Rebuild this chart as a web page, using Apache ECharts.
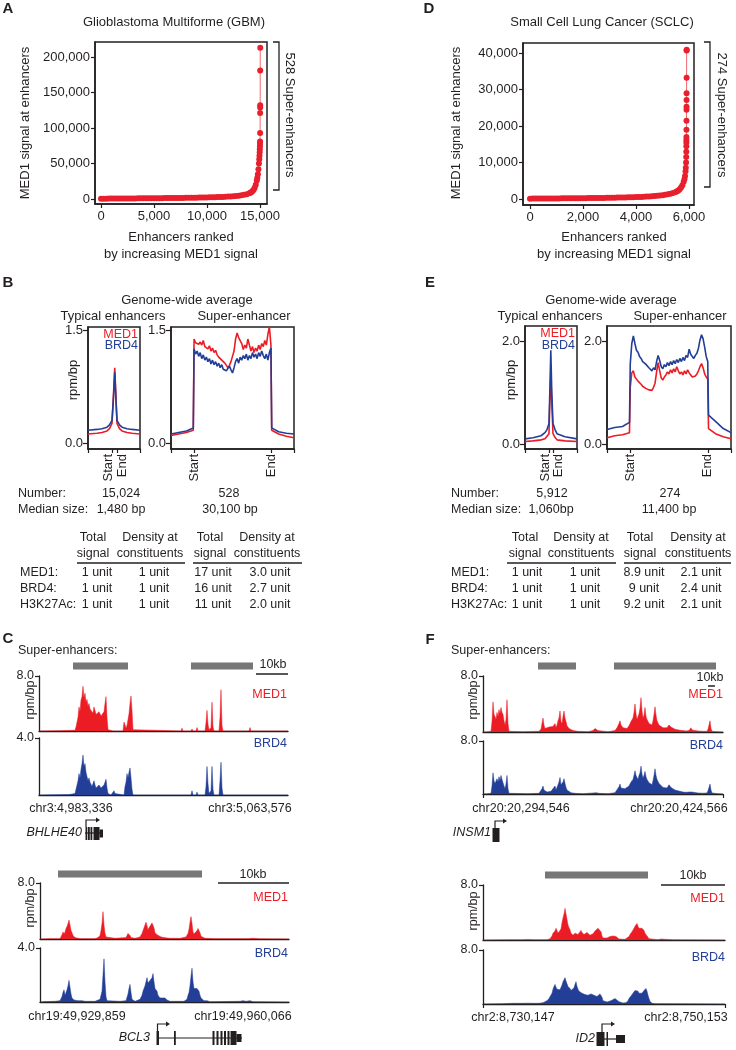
<!DOCTYPE html>
<html><head><meta charset="utf-8">
<script src="https://cdn.jsdelivr.net/npm/echarts@6/dist/echarts.min.js"></script>
<style>html,body{margin:0;padding:0;background:#fff}#c{width:736px;height:1050px}</style>
</head><body><div id="c"></div>
<script>
// ---------------- DATA ----------------
// Panel A (GBM): enhancers ranked by MED1 signal
const gbmRank = [0,250,500,750,1000,1250,1500,1750,2000,2250,2500,2750,3000,3250,3500,3750,4000,4250,4500,4750,5000,5250,5500,5750,6000,6250,6500,6750,7000,7250,7500,7750,8000,8250,8500,8750,9000,9250,9500,9750,10000,10250,10500,10750,11000,11250,11500,11750,12000,12250,12500,12750,13000,13250,13500,13750,14000,14100,14200,14300,14400,14500,14600,14700,14750,14800,14850,14900,14930,14950,14970,14980,14990,15000,15005,15010,15013,15016,15018,15020,15024];
const gbmSignal = [400,500,550,600,650,700,720,750,780,800,830,860,890,920,950,980,1010,1040,1070,1100,1130,1160,1200,1240,1280,1320,1360,1400,1450,1500,1550,1600,1660,1720,1780,1850,1920,2000,2080,2170,2260,2360,2470,2590,2720,2870,3030,3220,3430,3680,3970,4320,4750,5250,5900,6800,8000,8800,9900,11300,13200,16000,20000,26000,30000,35000,42000,50000,56000,61000,66000,70000,74000,78000,81000,93000,121000,129000,132000,181000,213000];
const gbmXTicks = [0,5000,10000,15000];
const gbmYTicks = [0,50000,100000,150000,200000];
// Panel D (SCLC)
const sclcRank = [0,100,200,300,400,500,600,700,800,900,1000,1100,1200,1300,1400,1500,1600,1700,1800,1900,2000,2100,2200,2300,2400,2500,2600,2700,2800,2900,3000,3100,3200,3300,3400,3500,3600,3700,3800,3900,4000,4100,4200,4300,4400,4500,4600,4700,4800,4900,5000,5100,5200,5300,5400,5500,5550,5600,5650,5700,5750,5800,5830,5850,5870,5880,5890,5895,5898,5900,5901,5902,5903,5904,5905,5906,5907,5908,5909,5910,5911,5912];
const sclcSignal = [100,110,120,125,130,135,140,145,150,155,160,165,170,175,180,185,190,195,200,210,220,230,240,250,260,270,280,290,300,315,330,345,360,375,390,410,430,450,470,495,520,550,580,610,650,690,740,800,870,950,1040,1150,1280,1440,1640,1900,2100,2350,2700,3150,3800,4700,5500,6300,7600,8600,10000,11500,13000,14500,15500,16200,17000,19000,21500,24500,25300,27200,29000,33300,40800,41000];
const sclcXTicks = [0,2000,4000,6000];
const sclcYTicks = [0,10000,20000,30000,40000];

// Panels B / E: meta-profiles (rpm/bp); x in units of enhancer length (0 = Start, 1 = End)
const profileTickLabels = ['Start','End'];
const seX = [-0.3,-0.2,-0.1,-0.01,0,0.02,0.04,0.06,0.08,0.1,0.12,0.14,0.16,0.18,0.2,0.22,0.24,0.26,0.28,0.3,0.32,0.34,0.36,0.38,0.4,0.42,0.44,0.46,0.48,0.5,0.52,0.54,0.56,0.58,0.6,0.62,0.64,0.66,0.68,0.7,0.72,0.74,0.76,0.78,0.8,0.82,0.84,0.86,0.88,0.9,0.92,0.94,0.96,0.98,1.0,1.01,1.1,1.2,1.3];
const gbmSeMed1 = [0.10,0.12,0.14,0.17,1.38,1.33,1.35,1.31,1.34,1.30,1.36,1.28,1.30,1.25,1.29,1.22,1.26,1.20,1.23,1.17,1.14,1.16,1.10,1.12,1.06,1.04,1.00,1.03,1.08,1.15,1.22,1.38,1.46,1.40,1.36,1.32,1.24,1.30,1.26,1.38,1.30,1.22,1.28,1.20,1.26,1.22,1.30,1.24,1.32,1.28,1.36,1.30,1.44,1.54,1.30,0.17,0.12,0.09,0.07];
const gbmSeBrd4 = [0.12,0.14,0.16,0.20,1.25,1.18,1.22,1.15,1.20,1.12,1.17,1.10,1.14,1.08,1.12,1.05,1.10,1.04,1.08,1.02,1.06,1.00,1.04,0.98,1.00,0.96,0.98,1.02,0.97,0.93,1.00,1.08,1.12,1.06,1.14,1.10,1.16,1.12,1.18,1.10,1.16,1.12,1.20,1.14,1.18,1.12,1.20,1.15,1.22,1.16,1.12,1.18,1.10,1.20,1.26,0.20,0.15,0.13,0.12];
const sclcSeMed1 = [0.12,0.16,0.18,0.22,1.10,1.38,1.42,1.30,1.28,1.22,1.20,1.16,1.12,1.14,1.08,1.10,1.05,1.08,1.04,1.10,1.18,1.40,1.58,1.42,1.28,1.24,1.30,1.34,1.40,1.36,1.44,1.38,1.46,1.40,1.50,1.42,1.36,1.40,1.34,1.42,1.36,1.44,1.38,1.34,1.30,1.28,1.32,1.36,1.42,1.50,1.56,1.48,1.36,1.30,1.26,0.30,0.20,0.14,0.10];
const sclcSeBrd4 = [0.28,0.32,0.34,0.42,1.55,1.95,2.10,1.95,1.82,1.78,1.70,1.66,1.60,1.62,1.55,1.52,1.48,1.45,1.42,1.48,1.44,1.60,1.72,1.62,1.50,1.46,1.54,1.50,1.58,1.52,1.60,1.54,1.62,1.56,1.64,1.58,1.66,1.60,1.68,1.62,1.72,1.68,1.84,1.74,1.70,1.66,1.72,1.76,1.86,2.02,2.12,2.04,1.88,1.70,1.60,0.56,0.44,0.30,0.22];
const gbmTeX = [-4.8,-3,-2,-1,-0.5,0,0.3,0.55,0.8,1,1.5,2,3,4,5.6];
const gbmTeMed1 = [0.12,0.13,0.14,0.16,0.19,0.26,0.65,1.0,0.6,0.26,0.19,0.16,0.14,0.13,0.12];
const gbmTeBrd4 = [0.17,0.18,0.19,0.21,0.24,0.30,0.60,0.94,0.55,0.30,0.24,0.21,0.19,0.18,0.17];
const sclcTeX = [-6,-4,-2,-1,-0.5,0,0.2,0.45,0.7,1,1.5,2,4,7];
const sclcTeMed1 = [0.05,0.06,0.08,0.10,0.13,0.20,0.80,1.32,0.80,0.20,0.13,0.08,0.06,0.05];
const sclcTeBrd4 = [0.10,0.12,0.16,0.22,0.28,0.40,1.00,1.82,1.00,0.40,0.28,0.20,0.14,0.10];

// Stats & tables
const gbmNumber = ['15,024','528'];
const gbmMedian = ['1,480 bp','30,100 bp'];
const sclcNumber = ['5,912','274'];
const sclcMedian = ['1,060bp','11,400 bp'];
const tableHead1 = ['Total','Density at','Total','Density at'];
const tableHead2 = ['signal','constituents','signal','constituents'];
const tableRows = ['MED1:','BRD4:','H3K27Ac:'];
const gbmTable = [['1 unit','1 unit','17 unit','3.0 unit'],['1 unit','1 unit','16 unit','2.7 unit'],['1 unit','1 unit','11 unit','2.0 unit']];
const sclcTable = [['1 unit','1 unit','8.9 unit','2.1 unit'],['1 unit','1 unit','9 unit','2.4 unit'],['1 unit','1 unit','9.2 unit','2.1 unit']];

// Panels C / F: binned ChIP-seq tracks [bin, rpm/bp]
const c1Bins = 249, c2Bins = 249, f1Bins = 240, f2Bins = 242;
const c1Coords = ['chr3:4,983,336','chr3:5,063,576'];
const c2Coords = ['chr19:49,929,859','chr19:49,960,066'];
const f1Coords = ['chr20:20,294,546','chr20:20,424,566'];
const f2Coords = ['chr2:8,730,147','chr2:8,750,153'];
const c1SE = [[34,89],[152,214]];
const c2SE = [[18,162]];
const f1SE = [[55,93],[131,233]];
const f2SE = [[62,165]];
const c1Med1 = [[0,0],[20,0.05],[36,0.1],[37,0.6],[39,2.0],[40,3.5],[41,2.8],[42,4.5],[43,5.0],[44,6.5],[45,4.8],[46,5.5],[47,4.2],[48,4.6],[49,3.6],[50,4.0],[51,3.2],[52,3.4],[53,3.0],[54,2.6],[55,3.5],[56,3.0],[57,2.4],[58,2.5],[59,2.2],[60,2.8],[61,2.6],[62,2.2],[63,2.4],[64,2.3],[65,2.8],[66,4.0],[67,5.0],[68,2.0],[69,0.2],[70,0],[74,0],[75,0.2],[76,0],[84,0],[85,1.3],[86,0.9],[87,0.4],[88,0.8],[90,2.5],[91,4.0],[92,5.1],[93,3.0],[94,0.2],[95,0],[142,0],[143,0.4],[144,0],[152,0],[153,0.3],[154,0],[157,0],[158,0.5],[159,0],[166,0],[167,1.2],[168,3.0],[169,1.0],[170,0.2],[172,0.5],[173,4.2],[174,0.6],[175,0],[180,0],[181,2.0],[182,6.0],[183,0.8],[184,0],[210,0],[211,0.5],[212,0],[249,0]];
const c1Brd4 = [[0,0],[30,0.03],[36,0.1],[37,0.4],[39,1.0],[40,1.5],[41,1.2],[42,1.8],[43,2.2],[44,2.8],[45,2.0],[46,2.2],[47,1.6],[48,1.3],[49,1.0],[50,1.2],[51,0.9],[52,0.8],[53,0.6],[54,0.8],[55,1.0],[56,0.7],[57,0.5],[58,0.6],[59,0.5],[60,0.7],[61,0.8],[62,0.5],[63,0.4],[64,0.5],[65,0.7],[66,0.9],[67,1.1],[68,0.5],[69,0.1],[72,0],[74,0.1],[75,0.3],[76,0.1],[78,0],[85,0],[86,0.6],[87,0.9],[88,1.5],[89,1.2],[90,1.6],[91,1.9],[92,1.2],[93,0.4],[94,0],[143,0],[144,0.1],[145,0],[152,0],[153,0.3],[154,0],[157,0],[158,0.2],[159,0],[166,0],[167,0.6],[168,2.0],[169,0.8],[170,0.1],[172,0.3],[173,2.0],[174,0.4],[175,0],[180,0],[181,1.0],[182,2.3],[183,0.5],[184,0],[211,0],[212,0.05],[213,0],[249,0]];
const c2Med1 = [[0,0],[10,0.05],[20,0.05],[22,0.6],[23,1.0],[24,0.7],[25,1.0],[26,1.5],[27,1.8],[28,2.2],[29,2.7],[30,2.0],[31,1.2],[32,0.9],[33,0.5],[35,0.2],[37,0.1],[40,0.05],[55,0.05],[58,0.2],[60,0.5],[61,1.2],[62,2.2],[63,3.9],[64,2.0],[65,0.8],[66,0.3],[68,0.1],[75,0.1],[86,0.2],[87,0.5],[88,0.8],[89,0.9],[90,0.5],[91,0.2],[95,0.1],[100,0.3],[102,0.8],[104,1.6],[105,2.0],[106,2.4],[107,1.9],[108,1.3],[109,1.6],[110,1.5],[111,1.8],[112,2.3],[113,2.5],[114,1.6],[115,0.9],[117,0.6],[119,0.4],[121,0.3],[124,0.2],[130,0.1],[140,0.1],[146,0.3],[148,0.8],[149,1.4],[150,2.4],[151,3.2],[152,2.2],[153,1.0],[154,0.7],[155,0.8],[156,0.9],[157,1.2],[158,1.5],[159,1.6],[160,0.9],[161,0.4],[162,0.2],[165,0.1],[175,0.05],[209,0.05],[210,0.2],[211,0.3],[212,0.1],[220,0.02],[249,0]];
const c2Brd4 = [[0,0],[5,0.03],[15,0.05],[20,0.1],[22,0.4],[23,0.7],[24,0.9],[25,0.5],[26,0.4],[27,0.9],[28,1.2],[29,1.6],[30,1.1],[31,0.6],[32,0.3],[34,0.15],[36,0.2],[38,0.1],[40,0.15],[42,0.1],[45,0.05],[55,0.05],[60,0.2],[62,0.8],[63,2.0],[64,3.2],[65,1.5],[66,0.4],[67,0.1],[80,0.05],[86,0.1],[88,0.6],[89,1.0],[90,1.3],[91,0.7],[92,0.2],[95,0.05],[100,0.2],[102,0.5],[103,0.8],[104,1.0],[105,1.2],[106,1.5],[107,1.8],[108,1.4],[109,1.3],[110,1.6],[111,1.5],[112,1.8],[113,2.1],[114,1.5],[115,1.0],[116,0.9],[117,0.8],[118,0.5],[120,0.3],[122,0.2],[125,0.3],[127,0.15],[130,0.05],[144,0.05],[147,0.2],[148,0.5],[149,0.7],[150,1.2],[151,1.9],[152,2.5],[153,1.5],[154,1.0],[155,0.9],[156,0.9],[157,1.0],[158,1.0],[159,0.8],[160,0.5],[161,0.3],[162,0.2],[164,0.1],[167,0.1],[170,0.02],[200,0.05],[203,0.1],[206,0.05],[210,0.1],[213,0.02],[249,0]];
const f1Med1 = [[0,0],[5,0.05],[8,0.1],[9,1.5],[10,4.3],[11,2.5],[12,2.2],[13,1.8],[14,2.8],[15,2.2],[16,3.2],[17,2.6],[18,3.5],[19,2.8],[20,2.5],[21,1.6],[22,1.0],[23,1.8],[24,4.6],[25,1.2],[26,0.1],[28,0.05],[40,0.05],[56,0.1],[58,0.4],[59,1.2],[60,2.0],[61,1.0],[62,0.5],[64,0.4],[66,0.7],[68,0.5],[70,0.8],[72,1.2],[73,0.6],[74,1.0],[75,1.6],[76,2.0],[77,3.0],[78,1.5],[79,1.2],[80,2.2],[81,3.0],[82,2.0],[83,1.5],[84,0.9],[86,0.5],[88,0.3],[90,0.2],[95,0.1],[105,0.05],[110,0.2],[111,0.4],[112,0.5],[113,0.3],[114,0.45],[115,0.2],[117,0.05],[125,0.05],[132,0.2],[134,0.6],[136,1.2],[137,1.6],[138,1.0],[140,0.6],[142,0.7],[144,0.5],[146,0.9],[148,1.5],[149,1.4],[150,2.0],[151,2.8],[152,4.0],[153,2.6],[154,1.8],[155,2.0],[156,2.6],[157,3.4],[158,4.9],[159,3.0],[160,2.0],[161,2.4],[162,3.5],[163,2.2],[164,1.8],[165,1.5],[166,1.2],[167,1.0],[168,1.2],[169,1.0],[170,1.6],[171,2.5],[172,3.6],[173,2.4],[174,1.6],[175,1.3],[176,1.0],[177,0.9],[178,0.8],[180,0.6],[182,0.5],[184,0.6],[185,0.8],[186,1.0],[187,1.2],[188,0.7],[189,0.9],[190,0.6],[192,0.4],[194,0.3],[197,0.25],[200,0.2],[203,0.15],[206,0.2],[207,0.4],[208,0.6],[209,0.3],[211,0.15],[215,0.15],[220,0.1],[224,0.1],[225,0.4],[226,1.0],[227,1.6],[228,0.5],[229,0.1],[235,0.05],[240,0]];
const f1Brd4 = [[0,0],[5,0.05],[8,0.1],[9,1.2],[10,3.2],[11,2.0],[12,1.6],[13,1.5],[14,2.3],[15,1.8],[16,2.6],[17,2.0],[18,2.8],[19,2.2],[20,2.0],[21,1.2],[22,0.8],[23,1.5],[24,2.8],[25,0.8],[26,0.1],[28,0.05],[45,0.05],[56,0.1],[58,0.3],[59,0.8],[60,1.2],[61,0.6],[62,0.3],[64,0.3],[66,0.5],[68,0.4],[70,0.7],[72,1.2],[73,0.6],[74,0.9],[75,1.4],[76,1.8],[77,2.5],[78,1.4],[79,1.1],[80,1.8],[81,2.3],[82,1.6],[83,1.0],[84,0.6],[86,0.4],[88,0.2],[92,0.1],[100,0.05],[110,0.15],[112,0.4],[113,0.2],[114,0.3],[116,0.1],[125,0.05],[132,0.2],[134,0.5],[136,1.1],[137,1.5],[138,0.9],[140,0.6],[142,0.8],[144,0.7],[146,1.2],[148,1.8],[149,1.6],[150,2.2],[151,2.8],[152,3.5],[153,2.8],[154,2.5],[155,2.2],[156,2.8],[157,3.2],[158,4.2],[159,3.0],[160,2.4],[161,2.8],[162,3.4],[163,2.6],[164,2.2],[165,2.0],[166,1.7],[167,1.5],[168,1.6],[169,1.4],[170,2.0],[171,2.8],[172,3.8],[173,2.8],[174,2.2],[175,2.0],[176,1.6],[177,1.4],[178,1.3],[180,1.0],[182,0.8],[184,0.9],[185,1.1],[186,1.4],[187,1.6],[188,1.0],[189,1.0],[190,0.8],[192,0.6],[194,0.5],[197,0.4],[200,0.3],[203,0.25],[206,0.3],[207,0.4],[208,0.5],[209,0.3],[211,0.2],[215,0.15],[220,0.12],[224,0.15],[225,0.5],[226,1.0],[227,1.5],[228,0.6],[229,0.15],[235,0.05],[240,0]];
const f2Med1 = [[0,0],[20,0.02],[30,0.05],[32,0.1],[34,0.03],[40,0.05],[45,0.08],[50,0.05],[55,0.03],[64,0.05],[67,0.2],[68,0.3],[69,0.6],[70,1.0],[71,0.9],[72,1.3],[73,1.7],[74,1.4],[75,1.0],[76,0.9],[77,1.2],[78,1.6],[79,2.5],[80,3.2],[81,3.8],[82,4.6],[83,3.8],[84,3.0],[85,2.2],[86,1.8],[87,1.5],[88,1.0],[89,0.8],[90,0.7],[91,0.9],[92,1.0],[93,1.2],[94,0.9],[95,0.8],[96,0.7],[97,1.0],[98,1.4],[99,1.1],[100,0.9],[101,0.8],[102,0.7],[103,0.9],[104,1.1],[105,1.2],[106,0.9],[107,0.7],[108,0.6],[109,0.7],[110,0.9],[111,1.1],[112,1.3],[113,1.4],[114,1.5],[115,1.7],[116,1.8],[117,1.9],[118,1.2],[119,0.6],[120,0.3],[122,0.2],[124,0.3],[125,0.3],[126,0.4],[127,0.5],[128,0.6],[129,0.5],[130,0.6],[131,0.5],[132,0.5],[133,0.5],[134,0.3],[136,0.15],[138,0.1],[142,0.1],[144,0.2],[146,0.5],[147,0.8],[148,1.0],[149,1.2],[150,1.4],[151,1.7],[152,2.0],[153,2.2],[154,2.4],[155,2.0],[156,1.7],[157,1.5],[158,1.6],[159,1.7],[160,1.8],[161,1.4],[162,1.0],[163,0.8],[164,0.6],[165,0.4],[166,0.2],[167,0.1],[168,0.05],[175,0.05],[177,0.1],[178,0.15],[179,0.05],[190,0.02],[242,0]];
const f2Brd4 = [[0,0],[20,0.05],[30,0.1],[32,0.2],[34,0.1],[40,0.1],[45,0.12],[50,0.1],[56,0.1],[60,0.2],[62,0.3],[64,0.5],[66,0.8],[68,1.0],[69,1.6],[70,2.2],[71,2.6],[72,2.9],[73,2.5],[74,2.2],[75,2.2],[76,2.0],[77,2.1],[78,2.3],[79,2.8],[80,3.3],[81,3.6],[82,3.9],[83,3.4],[84,3.0],[85,2.6],[86,2.4],[87,2.3],[88,2.0],[89,1.8],[90,2.0],[91,2.4],[92,2.9],[93,3.3],[94,2.6],[95,2.2],[96,1.9],[97,1.8],[98,1.7],[99,1.6],[100,1.6],[101,1.5],[102,1.4],[103,1.3],[104,1.3],[105,1.3],[106,1.3],[107,1.4],[108,1.5],[109,1.4],[110,1.3],[111,1.3],[112,1.4],[113,1.2],[114,1.1],[115,1.2],[116,1.3],[117,1.5],[118,1.6],[119,1.0],[120,0.5],[122,0.35],[124,0.3],[126,0.35],[128,0.5],[130,0.7],[132,0.8],[133,0.7],[134,0.6],[136,0.35],[138,0.2],[140,0.15],[143,0.2],[145,0.5],[146,0.8],[147,1.0],[148,1.2],[149,1.4],[150,1.6],[151,1.8],[152,2.0],[153,2.1],[154,2.2],[155,1.9],[156,1.6],[157,1.5],[158,1.4],[159,1.6],[160,1.8],[161,2.0],[162,2.2],[163,2.3],[164,1.9],[165,1.3],[166,0.8],[167,0.4],[168,0.2],[169,0.1],[172,0.05],[190,0.03],[242,0]];

// ---------------- STYLE / BUILD ----------------
const FONT = '"Liberation Sans", Arial, sans-serif';
const INK = '#231f20', RED = '#ec1c24', BLUE = '#233e97', GRAY = '#777777';
const fmt = v => String(Math.round(v)).replace(/\B(?=(\d{3})+(?!\d))/g, ',');
const grids = [], xAxes = [], yAxes = [], series = [], G = [];
const lbl = (o) => Object.assign({show:true, color:INK, fontFamily:FONT, fontSize:13, hideOverlap:false}, o);
const aLine = (w) => ({show:true, onZero:false, lineStyle:{color:INK, width:w}});
const tick = (vals, len, show=true) => ({show, customValues:vals, length:len, inside:false, lineStyle:{color:INK, width:1.2}});

function grid(l, t, w, h, box) {
  grids.push({left:l, top:t, width:w, height:h, containLabel:false, outerBoundsMode:'none',
    show:!!box, borderColor:INK, borderWidth:1.5, backgroundColor:'rgba(0,0,0,0)'});
  return grids.length - 1;
}

function rankedPlot(g, xr, yr, xt, yt, ranks, vals) {
  const gi = grid(g[0], g[1], g[2], g[3], true);
  xAxes.push({gridIndex:gi, type:'value', min:xr[0], max:xr[1], axisLine:aLine(1.5), axisTick:tick(xt,4),
    axisLabel:lbl({customValues:xt, formatter:fmt, margin:6}), splitLine:{show:false}});
  yAxes.push({gridIndex:gi, type:'value', min:yr[0], max:yr[1], axisLine:aLine(1.5), axisTick:tick(yt,4),
    axisLabel:lbl({customValues:yt, formatter:fmt, margin:5}), splitLine:{show:false}});
  series.push({type:'line', xAxisIndex:xAxes.length-1, yAxisIndex:yAxes.length-1,
    data:ranks.map((r,i)=>[r, vals[i]]), symbol:'circle', symbolSize:6, showSymbol:true,
    itemStyle:{color:'#e8202e', borderWidth:0}, lineStyle:{color:'#ee6a72', width:1}, silent:true, z:3});
}

function profilePlot(g, xr, yr, yt, xTicks, xLabels, xs, med, brd) {
  const gi = grid(g[0], g[1], g[2], g[3], true);
  xAxes.push({gridIndex:gi, type:'value', min:xr[0], max:xr[1], axisLine:aLine(1.5), axisTick:tick(xTicks,4),
    axisLabel:lbl({customValues:xLabels, formatter:v => v < 0.5 ? profileTickLabels[0] : profileTickLabels[1], rotate:90, margin:5}),
    splitLine:{show:false}});
  yAxes.push({gridIndex:gi, type:'value', min:yr[0], max:yr[1], axisLine:aLine(1.5), axisTick:tick(yt,5),
    axisLabel:lbl({customValues:yt, formatter:v => v.toFixed(1), margin:5}), splitLine:{show:false}});
  const xi = xAxes.length-1, yi = yAxes.length-1;
  series.push({type:'line', xAxisIndex:xi, yAxisIndex:yi, data:xs.map((x,i)=>[x, med[i]]), showSymbol:false,
    lineStyle:{color:RED, width:1.6}, silent:true, z:3});
  series.push({type:'line', xAxisIndex:xi, yAxisIndex:yi, data:xs.map((x,i)=>[x, brd[i]]), showSymbol:false,
    lineStyle:{color:BLUE, width:1.6}, silent:true, z:4});
}

function trackPlot(g, nBins, ymax, data, color, endTicks) {
  const gi = grid(g[0], g[1], g[2], g[3], false);
  xAxes.push({gridIndex:gi, type:'value', min:0, max:nBins, axisLine:aLine(1.3), axisTick:tick([0,nBins],4,!!endTicks),
    axisLabel:{show:false}, splitLine:{show:false}});
  yAxes.push({gridIndex:gi, type:'value', min:0, max:ymax, axisLine:aLine(1.3), axisTick:tick([ymax],4),
    axisLabel:lbl({customValues:[ymax], formatter:v => v.toFixed(1), margin:5, fontSize:12.5}), splitLine:{show:false}});
  const xi = xAxes.length-1, yi = yAxes.length-1;
  series.push({type:'line', xAxisIndex:xi, yAxisIndex:yi, data:data, showSymbol:false, smooth:false,
    lineStyle:{color:color, width:0.5}, areaStyle:{color:color, opacity:1}, silent:true, z:3});
  return [xi, yi];
}

function seBars(ax, ymax, bars, off) {
  series.push({type:'custom', xAxisIndex:ax[0], yAxisIndex:ax[1], clip:false, silent:true, z:5,
    data:bars, encode:{x:[0,1]},
    renderItem:(p, api) => {
      const a = api.coord([api.value(0), ymax]), b = api.coord([api.value(1), ymax]);
      return {type:'rect', shape:{x:a[0], y:a[1]-off-3.5, width:b[0]-a[0], height:7}, style:{fill:GRAY}};
    }});
}

// graphic helpers
function txt(x, y, s, o={}) {
  const al = o.align || 'center';
  G.push({type:'text', x:x, y:y, rotation:o.rot||0, z:100, silent:true,
    style:{text:s, fill:o.color||INK, fontSize:o.size||13, fontFamily:FONT,
      fontWeight:o.bold?'bold':'normal', fontStyle:o.italic?'italic':'normal',
      align:al, verticalAlign:'middle', textAlign:al, textVerticalAlign:'middle'}});
}
function ln(x1, y1, x2, y2, w=1.3) { G.push({type:'line', z:100, silent:true, shape:{x1,y1,x2,y2}, style:{stroke:INK, lineWidth:w}}); }
function pl(pts, w=1.3) { G.push({type:'polyline', z:100, silent:true, shape:{points:pts}, style:{stroke:INK, lineWidth:w, fill:null}}); }
function rc(x, y, w, h) { G.push({type:'rect', z:100, silent:true, shape:{x,y,width:w,height:h}, style:{fill:INK}}); }
function tri(pts) { G.push({type:'polygon', z:100, silent:true, shape:{points:pts}, style:{fill:INK}}); }
function tss(x, yBase, yTop, xEnd) { pl([[x,yBase],[x,yTop],[xEnd,yTop]], 1.2); tri([[xEnd,yTop-2.6],[xEnd+4,yTop],[xEnd,yTop+2.6]]); }

// ---------------- PANELS ----------------
// A & D
rankedPlot([95,42,172,162], [-566,15660], [-7000,221100], gbmXTicks, gbmYTicks, gbmRank, gbmSignal);
rankedPlot([523,43,171,162], [-264,6189], [-1650,42830], sclcXTicks, sclcYTicks, sclcRank, sclcSignal);
// B & E
profilePlot([88,327,52,122], [-4.8,5.6], [-0.08,1.54], [0,1.5], [-4.8,0,1,5.6], [-0.7,2.0], gbmTeX, gbmTeMed1, gbmTeBrd4);
profilePlot([171,327,123,122], [-0.3,1.3], [-0.08,1.54], [0,1.5], [-0.3,0,1,1.3], [0,1], seX, gbmSeMed1, gbmSeBrd4);
profilePlot([525,326,52,123], [-6,7], [-0.097,2.29], [0,2], [-6,0,1,7], [-1.0,2.4], sclcTeX, sclcTeMed1, sclcTeBrd4);
profilePlot([607,326,124,123], [-0.3,1.3], [-0.097,2.29], [0,2], [-0.3,0,1,1.3], [0,1], seX, sclcSeMed1, sclcSeBrd4);
// C tracks
const c1m = trackPlot([39,676,249,55], c1Bins, 8, c1Med1, RED, false);
trackPlot([39,738,249,57], c1Bins, 4, c1Brd4, BLUE, false);
seBars(c1m, 8, c1SE, 10);
const c2m = trackPlot([40,883,249,56], c2Bins, 8, c2Med1, RED, false);
trackPlot([40,948,249,54], c2Bins, 4, c2Brd4, BLUE, false);
seBars(c2m, 8, c2SE, 9);
// F tracks
const f1m = trackPlot([483,676,240,56], f1Bins, 8, f1Med1, RED, false);
trackPlot([483,741,240,53], f1Bins, 8, f1Brd4, BLUE, true);
seBars(f1m, 8, f1SE, 10);
const f2m = trackPlot([483,885,242,55], f2Bins, 8, f2Med1, RED, false);
trackPlot([483,950,242,54], f2Bins, 8, f2Brd4, BLUE, true);
seBars(f2m, 8, f2SE, 10);

// ---------------- TEXT / ANNOTATIONS ----------------
[['A',8,9],['D',429,9],['B',8,283],['E',430,283],['C',8,639],['F',430,640]].forEach(p => txt(p[1], p[2], p[0], {bold:true, size:15}));
// A / D
txt(174,22,'Glioblastoma Multiforme (GBM)');
txt(602,22,'Small Cell Lung Cancer (SCLC)');
txt(25,123,'MED1 signal at enhancers',{rot:Math.PI/2});
txt(456,123,'MED1 signal at enhancers',{rot:Math.PI/2});
txt(181,237,'Enhancers ranked'); txt(181,254,'by increasing MED1 signal');
txt(614,237,'Enhancers ranked'); txt(614,254,'by increasing MED1 signal');
pl([[273,42],[279,42],[279,190],[273,190]],1.3);
txt(290,115,gbmNumber[1]+' Super-enhancers',{rot:-Math.PI/2});
pl([[704,42],[710,42],[710,187],[704,187]],1.3);
txt(722,115,sclcNumber[1]+' Super-enhancers',{rot:-Math.PI/2});
// B / E headers
txt(187,300,'Genome-wide average'); txt(113,316,'Typical enhancers'); txt(244,316,'Super-enhancer');
txt(73,380,'rpm/bp',{rot:Math.PI/2});
txt(138,335,'MED1',{color:RED,align:'right',size:12.5}); txt(138,346,'BRD4',{color:BLUE,align:'right',size:12.5});
txt(611,300,'Genome-wide average'); txt(550,316,'Typical enhancers'); txt(680,316,'Super-enhancer');
txt(511,380,'rpm/bp',{rot:Math.PI/2});
txt(575,334,'MED1',{color:RED,align:'right',size:12.5}); txt(575,346,'BRD4',{color:BLUE,align:'right',size:12.5});
// stats
const S = 12.5;
txt(18,494,'Number:',{align:'left',size:S}); txt(121,494,gbmNumber[0],{size:S}); txt(229,494,gbmNumber[1],{size:S});
txt(18,510,'Median size:',{align:'left',size:S}); txt(121,510,gbmMedian[0],{size:S}); txt(230,510,gbmMedian[1],{size:S});
txt(451,494,'Number:',{align:'left',size:S}); txt(552,494,sclcNumber[0],{size:S}); txt(670,494,sclcNumber[1],{size:S});
txt(451,510,'Median size:',{align:'left',size:S}); txt(551,510,sclcMedian[0],{size:S}); txt(669,510,sclcMedian[1],{size:S});
// tables
function table(labelX, headX, valX, under, rows) {
  headX.forEach((x,i) => { txt(x,538,tableHead1[i],{size:S}); txt(x,554,tableHead2[i],{size:S}); });
  under.forEach(u => ln(u[0],563,u[1],563,1.4));
  [573,589,605].forEach((y,r) => {
    txt(labelX,y,tableRows[r],{align:'left',size:S});
    rows[r].forEach((v,c) => txt(valX[c],y,v,{size:S}));
  });
}
table(20,[93,150,210,267],[97,154,213,270],[[77,185],[193,302]],gbmTable);
table(451,[525,581,640,698],[527,585,644,701],[[507,616],[624,731]],sclcTable);
// C / F annotations
txt(18,651,'Super-enhancers:',{align:'left',size:S});
txt(451,651,'Super-enhancers:',{align:'left',size:S});
txt(273,665,'10kb',{size:S}); ln(256,674,288,674,1.5);
txt(253,875,'10kb',{size:S}); ln(218,883,289,883,1.5);
txt(710,678,'10kb',{size:S}); ln(708,686,715,686,1.5);
txt(693,876,'10kb',{size:S}); ln(661,885,725,885,1.5);
[[287,695,'MED1',RED],[287,744,'BRD4',BLUE],[288,898,'MED1',RED],[288,954,'BRD4',BLUE],
 [723,695,'MED1',RED],[723,746,'BRD4',BLUE],[725,899,'MED1',RED],[725,958,'BRD4',BLUE]]
 .forEach(p => txt(p[0],p[1],p[2],{color:p[3],align:'right',size:S}));
[[31,700],[31,908],[474,700],[474,911]].forEach(p => txt(p[0],p[1],'rpm/bp',{rot:Math.PI/2,size:S}));
txt(71,809,c1Coords[0],{size:S}); txt(250,809,c1Coords[1],{size:S});
txt(77,1017,c2Coords[0],{size:S}); txt(243,1017,c2Coords[1],{size:S});
txt(521,809,f1Coords[0],{size:S}); txt(679,809,f1Coords[1],{size:S});
txt(513,1018,f2Coords[0],{size:S}); txt(686,1018,f2Coords[1],{size:S});
// gene models
txt(82,833,'BHLHE40',{italic:true,align:'right',size:S});
ln(85,833,103,833,1.2); rc(85.5,827,1.8,13); rc(88,827,1.8,13); rc(90.5,827,1.8,13); rc(93.5,827,6,13); rc(99.5,829.5,3.5,8);
tss(86,827,820,96);
txt(150,1038,'BCL3',{italic:true,align:'right',size:S});
ln(157,1038,242,1038,1.2); rc(156.5,1031,2.5,14); rc(174,1031,1.8,14); rc(212.5,1031,2,14); rc(216.5,1031,2,14);
rc(220.5,1031,2,14); rc(224,1031,2,14); rc(227.5,1031,2,14); rc(230.5,1031,6,14); rc(236.5,1034,5,8);
tss(157.5,1031,1024,166);
txt(491,833,'INSM1',{italic:true,align:'right',size:S});
rc(492.5,828,7,14); tss(495,828,821,503);
txt(595,1039,'ID2',{italic:true,align:'right',size:S});
ln(597,1039,625,1039,1.2); rc(596.5,1032,8,14); rc(606.5,1032,1.5,14); rc(616,1035,9,8);
tss(602,1032,1024,611);

// ---------------- RENDER ----------------
const chart = echarts.init(document.getElementById('c'), null, {renderer:'canvas', width:736, height:1050});
chart.setOption({
  animation:false,
  backgroundColor:'#ffffff',
  textStyle:{fontFamily:FONT, color:INK},
  grid:grids, xAxis:xAxes, yAxis:yAxes, series:series, graphic:{elements:G}
});
</script></body></html>
